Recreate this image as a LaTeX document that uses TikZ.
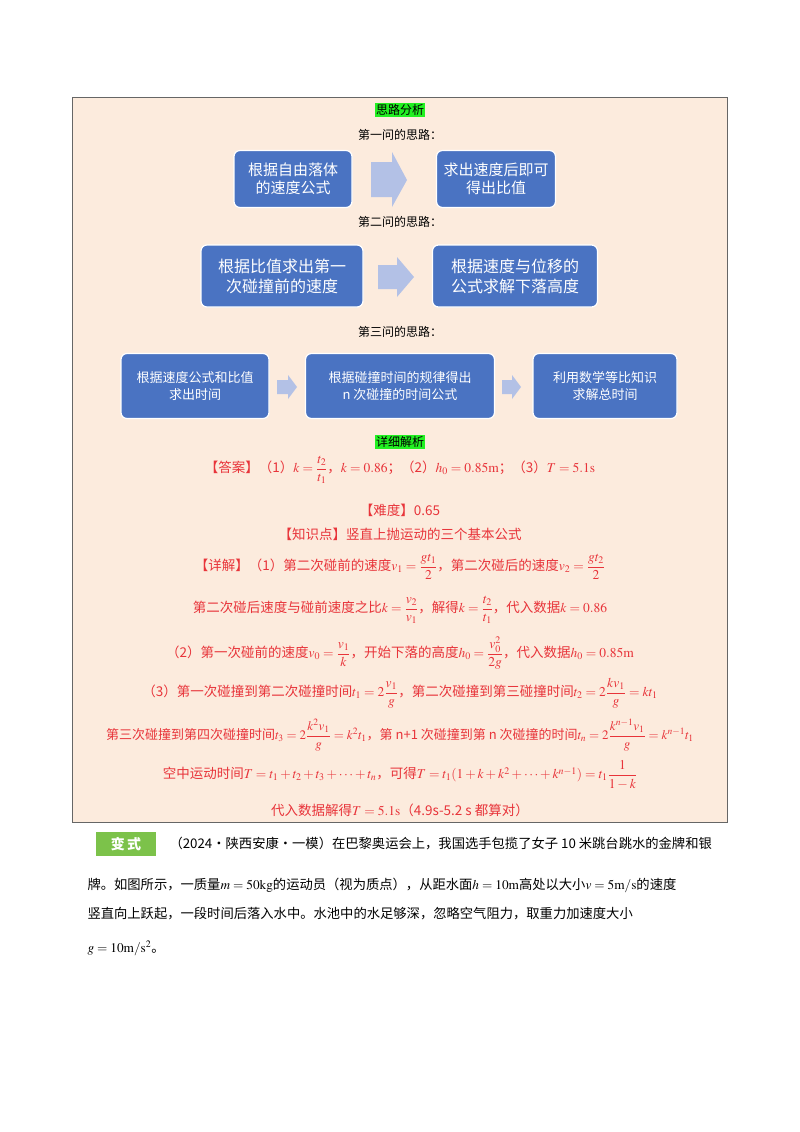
\documentclass[tikz,border=0pt]{standalone}
\usepackage{amsmath}
\usepackage{mathptmx}
\usepackage{fontspec}
\setmainfont{Noto Sans CJK SC}
\definecolor{peach}{HTML}{FCEBDD}
\definecolor{boxblue}{HTML}{4A73C2}
\definecolor{arr}{HTML}{B3C1E6}
\definecolor{hl}{HTML}{22F022}
\definecolor{ans}{HTML}{E8343A}
\definecolor{badge}{HTML}{7CC24A}
\begin{document}
\begin{tikzpicture}[x=1pt,y=-1pt,
  bbox/.style={draw=white,line width=1.2pt,fill=boxblue,rounded corners=6pt,text=white,align=center,inner sep=0pt},
  ttl/.style={font=\fontsize{12}{14}\selectfont,fill=hl,inner sep=1pt},
  sub/.style={font=\fontsize{12}{14}\selectfont},
  red/.style={font=\fontsize{13.5}{16}\selectfont,text=ans},
  body/.style={font=\fontsize{13.3}{15}\selectfont,anchor=west}]
\useasboundingbox (0,0) rectangle (800,1132);
\fill[white] (0,0) rectangle (800,1132);
\draw[fill=peach,draw=gray!80!black,line width=0.8pt] (72,97) rectangle (727,822);
\node[ttl] (t1) at (400,110) {思路分析};
\node[sub] (q1) at (400,135) {第一问的思路：};
\node[bbox,minimum width=118,minimum height=57,font=\fontsize{15}{18}\selectfont] (b1) at (293,179) {根据自由落体\\的速度公式};
\node[bbox,minimum width=119,minimum height=57,font=\fontsize{15}{18}\selectfont] (b2) at (496,179) {求出速度后即可\\得出比值};
\fill[arr] (371,162) -- (392,162) -- (392,152) -- (407,180) -- (392,207) -- (392,197) -- (371,197) -- cycle;
\node[sub] (q2) at (400,222) {第二问的思路：};
\node[bbox,minimum width=162,minimum height=62,font=\fontsize{16}{20}\selectfont] (b3) at (282,276) {根据比值求出第一\\次碰撞前的速度};
\node[bbox,minimum width=165,minimum height=62,font=\fontsize{16}{20}\selectfont] (b4) at (515,276) {根据速度与位移的\\公式求解下落高度};
\fill[arr] (378,265) -- (397,265) -- (397,257) -- (414,277) -- (397,297) -- (397,289) -- (378,289) -- cycle;
\node[sub] (q3) at (400,332) {第三问的思路：};
\node[bbox,minimum width=148,minimum height=65,font=\fontsize{13}{17}\selectfont] (b5) at (195,386) {根据速度公式和比值\\求出时间};
\node[bbox,minimum width=189,minimum height=65,font=\fontsize{13}{17}\selectfont] (b6) at (400,386) {根据碰撞时间的规律得出\\n 次碰撞的时间公式};
\node[bbox,minimum width=144,minimum height=65,font=\fontsize{13}{17}\selectfont] (b7) at (605,386) {利用数学等比知识\\求解总时间};
\fill[arr] (277,380) -- (288,380) -- (288,375) -- (297,387) -- (288,399) -- (288,394) -- (277,394) -- cycle;
\fill[arr] (502,380) -- (512,380) -- (512,375) -- (521,387) -- (512,399) -- (512,394) -- (502,394) -- cycle;
\node[ttl] (t2) at (400,442) {详细解析};
\node[red] (l1) at (400,470) {【答案】（1）$k=\dfrac{t_2}{t_1}$，$k=0.86$；（2）$h_0=0.85\mathrm{m}$；（3）$T=5.1\mathrm{s}$};
\node[red] (l2) at (400,510) {【难度】0.65};
\node[red] (l3) at (400,534) {【知识点】竖直上抛运动的三个基本公式};
\node[red] (l4) at (400,567) {【详解】（1）第二次碰前的速度$v_1=\dfrac{gt_1}{2}$，第二次碰后的速度$v_2=\dfrac{gt_2}{2}$};
\node[red] (l5) at (400,610) {第二次碰后速度与碰前速度之比$k=\dfrac{v_2}{v_1}$，解得$k=\dfrac{t_2}{t_1}$，代入数据$k=0.86$};
\node[red] (l6) at (400,653) {（2）第一次碰前的速度$v_0=\dfrac{v_1}{k}$，开始下落的高度$h_0=\dfrac{v_0^2}{2g}$，代入数据$h_0=0.85\mathrm{m}$};
\node[red] (l7) at (400,693) {（3）第一次碰撞到第二次碰撞时间$t_1=2\dfrac{v_1}{g}$，第二次碰撞到第三碰撞时间$t_2=2\dfrac{kv_1}{g}=kt_1$};
\node[red,font=\fontsize{13}{15}\selectfont] (l8) at (400,735) {第三次碰撞到第四次碰撞时间$t_3=2\dfrac{k^2v_1}{g}=k^2t_1$，第 n+1 次碰撞到第 n 次碰撞的时间$t_n=2\dfrac{k^{n-1}v_1}{g}=k^{n-1}t_1$};
\node[red] (l9) at (400,775) {空中运动时间$T=t_1+t_2+t_3+\cdots+t_n$，可得$T=t_1(1+k+k^2+\cdots+k^{n-1})=t_1\dfrac{1}{1-k}$};
\node[red] (l10) at (400,810) {代入数据解得$T=5.1\mathrm{s}$（4.9s-5.2 s 都算对）};
\node[fill=badge,minimum width=60,minimum height=24,inner sep=0pt,text=white,font=\bfseries\fontsize{14}{16}\selectfont] (bd) at (126,844) {变\,式};
\node[body] (p1) at (166,844) {（2024·陕西安康·一模）在巴黎奥运会上，我国选手包揽了女子 10 米跳台跳水的金牌和银};
\node[body] (p2) at (84,885) {牌。如图所示，一质量$m=50\mathrm{kg}$的运动员（视为质点），从距水面$h=10\mathrm{m}$高处以大小$v=5\mathrm{m/s}$的速度};
\node[body] (p3) at (84,914) {竖直向上跃起，一段时间后落入水中。水池中的水足够深，忽略空气阻力，取重力加速度大小};
\node[body] (p4) at (84,948) {$g=10\mathrm{m/s^2}$。};
\end{tikzpicture}
\end{document}
